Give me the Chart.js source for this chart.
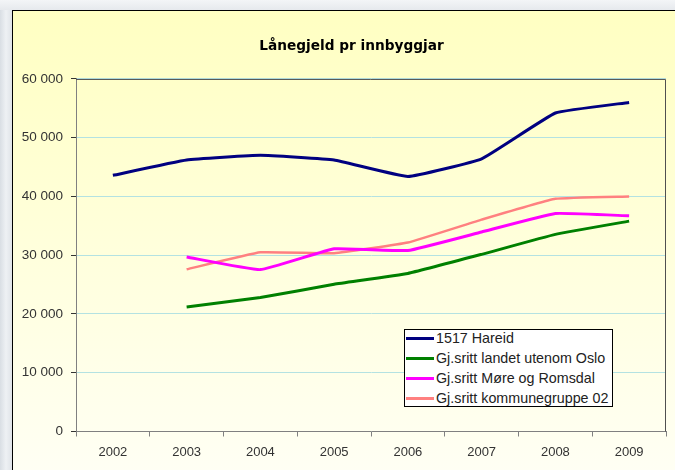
<!DOCTYPE html>
<html>
<head>
<meta charset="utf-8">
<script src="https://cdn.jsdelivr.net/npm/chart.js@4/dist/chart.umd.min.js"></script>
<style>
  html, body { margin: 0; padding: 0; }
  body { width: 675px; height: 470px; overflow: hidden; position: relative;
    background: linear-gradient(90deg, #d9dee4 0px, #eef1f4 6px, #dfe3e8 12px); }
  #top-strip { position: absolute; left: 0; top: 0; width: 675px; height: 10px;
    background: linear-gradient(180deg, #f3f5f7, #e6e9ed); }
  #panel { position: absolute; left: 12px; top: 10px; width: 700px; height: 480px;
    border: 1px solid #000; background: linear-gradient(180deg, #ffffc2 0%, #fffff6 100%); }
  #wrap { position: absolute; left: 0; top: 0; width: 703px; height: 470px; }
  #legend { position: absolute; left: 404px; top: 329px; width: 209px; height: 78px;
    box-sizing: border-box; border: 1px solid #000; background: #fff;
    font-family: "Liberation Sans", Arial, sans-serif; font-size: 14.3px; color: #222; }
  #legend .row { height: 20px; line-height: 20px; display: flex; align-items: center; white-space: nowrap; }
  #legend .row:first-child { margin-top: -2px; }
  #legend .swatch { width: 28px; height: 3px; margin-left: 1px; margin-right: 2px; }
</style>
</head>
<body>
<div id="top-strip"></div>
<div id="panel"></div>
<div id="wrap"><canvas id="myChart" width="703" height="470"></canvas></div>
<div id="legend"></div>
<script>
// data
const years = ["2002", "2003", "2004", "2005", "2006", "2007", "2008", "2009"];
const hareid = [43600, 46200, 47000, 46200, 43400, 46400, 54200, 56000];
const landet = [null, 21200, 22800, 25050, 26900, 30150, 33550, 35800];
const moreRomsdal = [null, 29700, 27550, 31100, 30800, 33950, 37100, 36700];
const kommunegruppe = [null, 27600, 30500, 30350, 32150, 36050, 39600, 40000];
const seriesNames = ["1517 Hareid", "Gj.sritt landet utenom Oslo", "Gj.sritt Møre og Romsdal", "Gj.sritt kommunegruppe 02"];
const seriesColors = ["#000080", "#008000", "#ff00ff", "#ff8080"];
const yTicks = [0, 10000, 20000, 30000, 40000, 50000, 60000];

function formatNumber(v) {
  return String(v).replace(/\B(?=(\d{3})+(?!\d))/g, " ");
}

//top and right border of the plot area
const plotBorder = {
  id: "plotBorder",
  beforeDatasetsDraw(chart) {
    const a = chart.chartArea;
    const ctx = chart.ctx;
    ctx.save();
    ctx.strokeStyle = "#505050";
    ctx.lineWidth = 1;
    ctx.beginPath();
    ctx.moveTo(a.left, a.top + 0.5);
    ctx.lineTo(a.right - 0.5, a.top + 0.5);
    ctx.lineTo(a.right - 0.5, a.bottom);
    ctx.stroke();
    ctx.restore();
  }
};

const allSeries = [hareid, landet, moreRomsdal, kommunegruppe];
const widths = [3, 3, 3, 2.5];
const datasets = [];
for (var i = 0; i < allSeries.length; i++) {
  datasets.push({
    label: seriesNames[i],
    data: allSeries[i],
    borderColor: seriesColors[i],
    backgroundColor: seriesColors[i],
    borderWidth: widths[i],
    pointRadius: 0,
    tension: 0.1,
    fill: false
  });
}

const tickFont = { family: "'Liberation Sans', Arial, sans-serif", size: 13 };

const chart = new Chart("myChart", {
  type: "line",
  data: { labels: years, datasets: datasets },
  plugins: [plotBorder],
  options: {
    responsive: false,
    animation: false,
    layout: { padding: 0 },
    plugins: {
      legend: { display: false },
      tooltip: { enabled: false },
      title: {
        display: true,
        text: "Lånegjeld pr innbyggjar",
        color: "#000",
        font: { family: "'DejaVu Sans', sans-serif", size: 13.7, weight: "bold" },
        padding: { top: 38, bottom: 24.5 }
      }
    },
    scales: {
      x: {
        type: "category",
        offset: true,
        afterFit(scale) { scale.height = 38.5; },
        grid: { offset: true, drawOnChartArea: false, tickLength: 5, color: "#808080" },
        border: { color: "#808080", width: 1 },
        ticks: { font: tickFont, color: "#333", padding: 8, maxRotation: 0 }
      },
      y: {
        min: 0,
        max: 60000,
        afterFit(scale) { scale.width = 76; },
        afterBuildTicks(scale) { scale.ticks = yTicks.map(function (v) { return { value: v }; }); },
        grid: { color: "#b4e2e2", tickColor: "#333", tickLength: 5 },
        border: { color: "#808080", width: 1 },
        ticks: {
          font: { family: "'Liberation Sans', Arial, sans-serif", size: 13.5 },
          color: "#333",
          padding: 8,
          callback: function (v) { return formatNumber(v); }
        }
      },
      // empty space right of the plot, keeps the title centred on the panel
      spacer: {
        type: "linear",
        position: "right",
        display: true,
        afterFit(scale) { scale.width = 37; },
        grid: { display: false, drawTicks: false },
        border: { display: false },
        ticks: { display: false }
      }
    }
  }
});

// html legend built from the datasets
var legendBox = document.getElementById("legend");
chart.data.datasets.forEach(function (ds) {
  var row = document.createElement("div");
  row.className = "row";
  var sw = document.createElement("span");
  sw.className = "swatch";
  sw.style.background = ds.borderColor;
  row.appendChild(sw);
  row.appendChild(document.createTextNode(ds.label));
  legendBox.appendChild(row);
});
</script>
</body>
</html>
